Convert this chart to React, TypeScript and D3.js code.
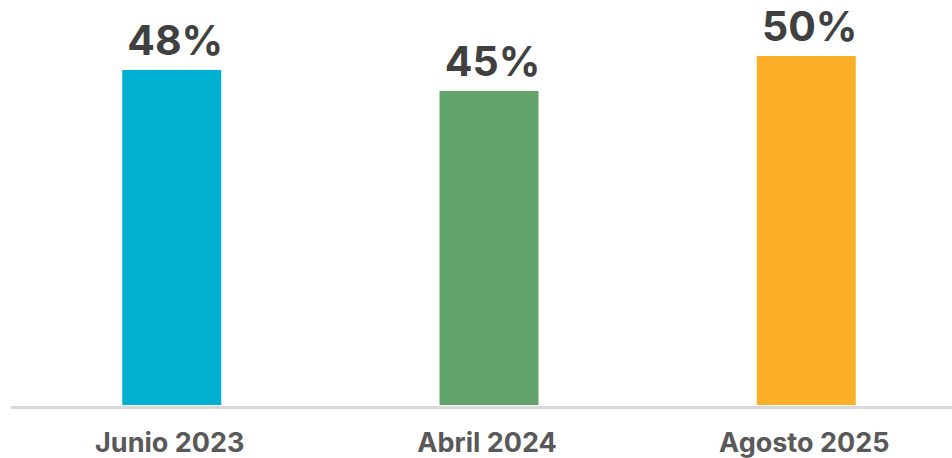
import React from "react";
import * as d3 from "d3";

const categories = ["Junio 2023", "Abril 2024", "Agosto 2025"];
const values = [48, 45, 50];
const labels = ["48%", "45%", "50%"];
const colors = ["#00B1D1", "#62A36B", "#FBAE27"];

const W = 952;
const H = 458;

export default function App() {
  const x = d3.scaleBand<string>().domain(categories).range([13.1, 964.9]).padding(0);
  const y = d3.scaleLinear().domain([0, 50]).range([405, 56]);
  const barW = 99;
  const font = "Inter, Lato, sans-serif";
  return (
    <svg width={W} height={H} style={{ position: "absolute", left: 0, top: 0 }}>
      <rect x={0} y={0} width={W} height={H} fill="#ffffff" />
      {categories.map((c, i) => {
        const cx = (x(c) as number) + x.bandwidth() / 2;
        const top = y(values[i]);
        return (
          <g key={c}>
            <rect x={cx - barW / 2} y={top} width={barW} height={y(0) - top} fill={colors[i]} />
            <text
              x={cx + 3.5}
              y={top - 15}
              textAnchor="middle"
              fontFamily={font}
              fontWeight={700}
              fontSize={41}
              fill="#404040"
            >
              {labels[i]}
            </text>
            <text
              x={cx - 2}
              y={452}
              textAnchor="middle"
              fontFamily={font}
              fontWeight={700}
              fontSize={27}
              fill="#595959"
            >
              {c}
            </text>
          </g>
        );
      })}
      <line x1={11} x2={W} y1={y(0) + 2.5} y2={y(0) + 2.5} stroke="#D9D9D9" strokeWidth={3} />
    </svg>
  );
}
